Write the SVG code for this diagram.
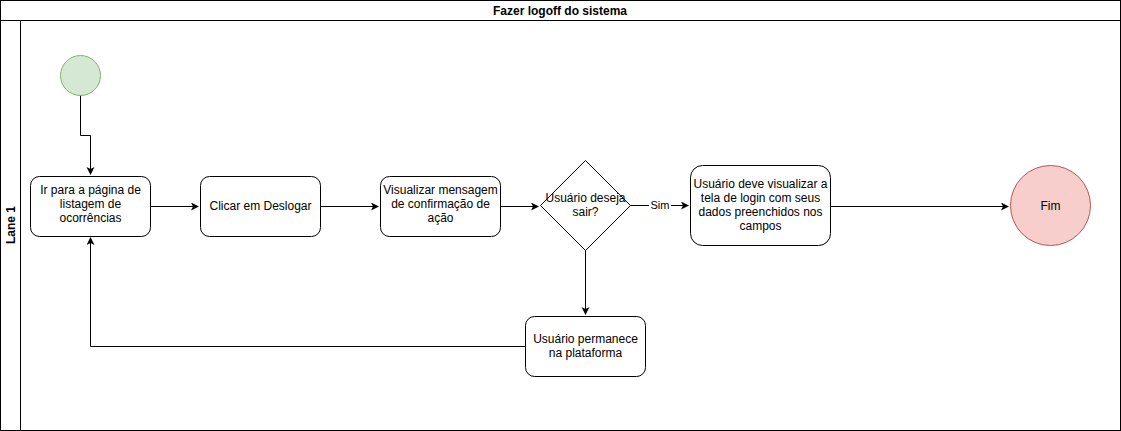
<svg xmlns="http://www.w3.org/2000/svg" width="1121" height="431" viewBox="0 0 1121 431">
<style>
text{font-family:"Liberation Sans",Arial,sans-serif;font-size:12px;fill:#000;text-anchor:middle}
.b{font-weight:bold}
.box{fill:#fff;stroke:#000;stroke-width:1}
.e{fill:none;stroke:#000;stroke-width:1}
</style>
<defs>
<marker id="a" markerWidth="10" markerHeight="10" refX="7" refY="4" orient="auto" markerUnits="userSpaceOnUse">
<path d="M0,0 L8,4 L0,8 L2,4 Z" fill="#000"/>
</marker>
</defs>
<rect width="1121" height="431" fill="#fff"/>
<g id="pool">
<rect x="0.5" y="0.5" width="1120" height="430" fill="none" stroke="#000"/>
<line x1="0.5" y1="20.5" x2="1120.5" y2="20.5" stroke="#000"/>
<line x1="20.5" y1="20.5" x2="20.5" y2="430.5" stroke="#000"/>
<text class="b" x="560" y="15">Fazer logoff do sistema</text>
<text class="b" transform="translate(14.5,225) rotate(-90)">Lane 1</text>
</g>
<g id="connectors">
<path class="e" d="M80.5,95 V135.5 H90.5 V174" marker-end="url(#a)"/>
<path class="e" d="M150,206.5 H198" marker-end="url(#a)"/>
<path class="e" d="M320,206.5 H378" marker-end="url(#a)"/>
<path class="e" d="M500,206.5 H538" marker-end="url(#a)"/>
<path class="e" d="M630,205.5 H688" marker-end="url(#a)"/>
<path class="e" d="M830,206.5 H1008" marker-end="url(#a)"/>
<path class="e" d="M585.5,250 V314" marker-end="url(#a)"/>
<path class="e" d="M525,346.5 H90.5 V238" marker-end="url(#a)"/>
<rect x="649" y="199" width="22" height="13" fill="#fff"/>
<text x="660" y="209" style="font-size:11px">Sim</text>
</g>
<g id="start"><circle cx="80.5" cy="75.5" r="20" fill="#d5e8d4" stroke="#82b366"/></g>
<g id="n1"><rect class="box" x="30.5" y="176.5" width="120" height="60" rx="9"/>
<text x="90.5" y="194">Ir para a página de</text><text x="90.5" y="208">listagem de</text><text x="90.5" y="222">ocorrências</text></g>
<g id="n2"><rect class="box" x="200.5" y="176.5" width="120" height="60" rx="9"/>
<text x="260.5" y="210">Clicar em Deslogar</text></g>
<g id="n3"><rect class="box" x="380.5" y="176.5" width="120" height="60" rx="9"/>
<text x="440.5" y="194">Visualizar mensagem</text><text x="440.5" y="208">de confirmação de</text><text x="440.5" y="222">ação</text></g>
<g id="d1"><path class="box" d="M585.5,160.5 L630.5,205.5 L585.5,250.5 L540.5,205.5 Z"/>
<text x="585.5" y="202">Usuário deseja</text><text x="585.5" y="216">sair?</text></g>
<g id="n4"><rect class="box" x="690.5" y="165.5" width="140" height="80" rx="12"/>
<text x="760.5" y="188">Usuário deve visualizar a</text><text x="760.5" y="202">tela de login com seus</text><text x="760.5" y="216">dados preenchidos nos</text><text x="760.5" y="230">campos</text></g>
<g id="n5"><rect class="box" x="525.5" y="316.5" width="120" height="60" rx="9"/>
<text x="585.5" y="343">Usuário permanece</text><text x="585.5" y="357">na plataforma</text></g>
<g id="end"><circle cx="1050.5" cy="205.5" r="40" fill="#f8cecc" stroke="#b85450"/>
<text x="1050.5" y="210">Fim</text></g>
</svg>
